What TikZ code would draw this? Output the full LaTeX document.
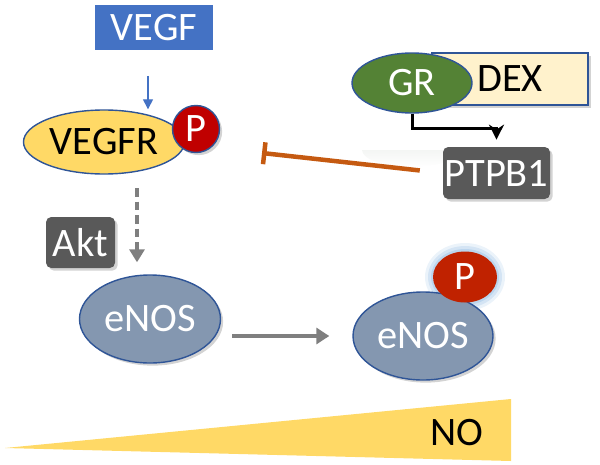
\documentclass[tikz,border=0pt]{standalone}
\usepackage{fontspec}
\setmainfont{Carlito}
\usepackage{tikz}
\usetikzlibrary{arrows.meta,positioning,shapes.geometric,shadows}
\definecolor{vblue}{HTML}{4472C4}
\definecolor{edge}{HTML}{2F5597}
\definecolor{gold}{HTML}{FFD966}
\definecolor{pred}{HTML}{C00000}
\definecolor{pred2}{HTML}{C02200}
\definecolor{grgreen}{HTML}{548235}
\definecolor{cream}{HTML}{FFF2CC}
\definecolor{dgrey}{HTML}{595959}
\definecolor{enosc}{HTML}{8497B0}
\definecolor{inhib}{HTML}{C55A11}
\definecolor{agrey}{HTML}{7F7F7F}
\definecolor{glow}{HTML}{9DC3E6}
\tikzset{
  big/.style={font=\fontsize{23}{26}\selectfont},
  shd/.style={drop shadow={opacity=0.35,shadow xshift=1.5pt,shadow yshift=-1.5pt}},
  prot/.style={ellipse,draw=edge,thick,inner sep=0pt,big},
  kin/.style={rectangle,rounded corners=3pt,fill=dgrey,text=white,inner sep=0pt,big,shd},
  phos/.style={ellipse,draw=edge,thick,fill=pred,text=white,inner sep=0pt,big},
}
\begin{document}
\begin{tikzpicture}[x=0.2mm,y=-0.2mm]
  \useasboundingbox (0,0) rectangle (600,464);
  % top: VEGF and its receptor
  \node[fill=vblue,text=white,big,minimum width=23.6mm,minimum height=9mm] (vegf) at (154,27.5){VEGF};
  \node[prot,fill=gold,minimum width=32.2mm,minimum height=12.8mm] (vegfr) at (104,142){VEGFR};
  \node[phos,shd,minimum width=9.4mm,minimum height=9.4mm] (p1) at (196,129){P};
  % GR / DEX
  \node[rectangle,draw=edge,thick,fill=cream,big,shd,minimum width=31.2mm,minimum height=10.4mm] (dex) at (510,79){DEX};
  \node[prot,fill=grgreen,text=white,minimum width=24mm,minimum height=12mm] (gr) at (412,83){GR};
  \shade[top color=green!8!gray!8,bottom color=white] (362,150) arc[start angle=180,end angle=0,x radius=49,y radius=17] -- cycle;
  \node[kin,minimum width=21.4mm,minimum height=10.4mm] (ptp) at (496.5,173){PTPB1};
  \node[kin,minimum width=13.8mm,minimum height=10.2mm] (akt) at (80.5,242.5){Akt};
  % eNOS
  \node[prot,fill=enosc,text=white,shd,minimum width=28.2mm,minimum height=17.6mm] (enos1) at (150,319){eNOS};
  \foreach \r/\o in {40/0.2,37/0.3,34/0.45,31/0.7}
    \fill[glow,opacity=\o] (465,277) ellipse[x radius=\r,y radius=\r-6];
  \node[prot,fill=enosc,text=white,shd,minimum width=28mm,minimum height=17.6mm] (enos2) at (423,336){eNOS};
  \node[phos,draw=none,fill=pred2,minimum width=12.8mm,minimum height=10.2mm] (p2) at (465,277){P};
  % NO wedge
  \fill[gold] (5,448) -- (511,399) -- (511,461) -- cycle;
  \node[big] (no) at (457,433){NO};
  % connectors
  \coordinate (s1) at (148,76);
  \coordinate (s2) at (137,188);
  \coordinate (blk) at (262,153);
  \draw[vblue,thick,-{Triangle[length=2mm,width=2mm]}] (s1) -- (s1 |- vegfr.north);
  \draw[agrey,line width=0.8mm,dash pattern=on 1.7mm off 1mm,-{Triangle[length=2.6mm,width=3mm]},shorten >=2.4mm] (s2) -- (s2 |- enos1.north);
  \draw[agrey,line width=0.8mm,-{Triangle[length=2.6mm,width=3.2mm]},shorten <=2.2mm,shorten >=4.6mm] (enos1.east |- enos2.west) -- (enos2.west);
  \draw[line width=0.6mm,-{Stealth[length=3mm,width=3mm]},shorten >=1.4mm] (gr.south) -- ++(0,15) -| (ptp.north);
  \draw[inhib,line width=0.9mm,-{Bar[width=4.4mm]},shorten <=4.6mm] (ptp.west) -- (blk);
\end{tikzpicture}
\end{document}
